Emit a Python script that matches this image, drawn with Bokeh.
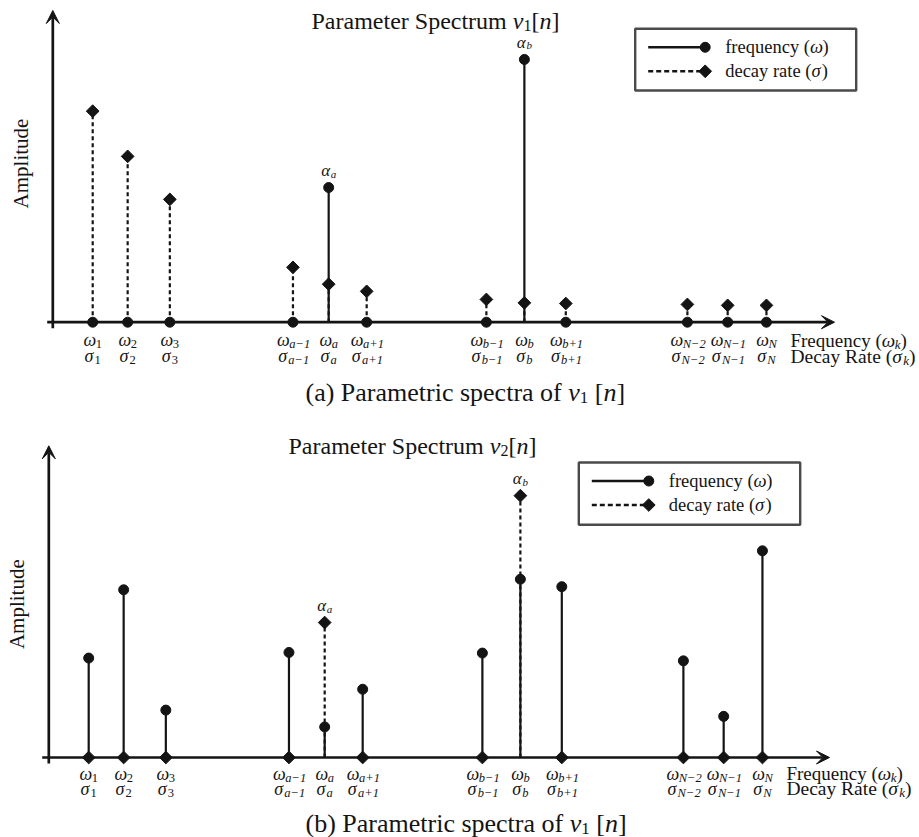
import math
from bokeh.plotting import figure
from bokeh.models import Range1d, Arrow, VeeHead
from bokeh.layouts import column
from bokeh.embed import file_html
from bokeh.resources import INLINE
from bokeh.core.properties import value

# ---------------- data ----------------
components = ["1", "2", "3", "a−1", "a", "a+1", "b−1", "b", "b+1", "N−2", "N−1", "N"]
positions = [1.05, 1.97, 3.08, 6.32, 7.26, 8.26, 11.41, 12.41, 13.50, 16.70, 17.76, 18.78]

# panel (a): spectrum of v1[n]
freq_v1 = [0, 0, 0, 0, 0.432, 0, 0, 0.843, 0, 0, 0, 0]
decay_v1 = [0.677, 0.532, 0.394, 0.176, 0.122, 0.099, 0.073, 0.062, 0.060, 0.057, 0.054, 0.054]

# panel (b): spectrum of v2[n]
freq_v2 = [0.319, 0.538, 0.152, 0.337, 0.098, 0.219, 0.335, 0.572, 0.548, 0.310, 0.132, 0.663]
decay_v2 = [0, 0, 0, 0, 0.433, 0, 0, 0.840, 0, 0, 0, 0]

peak_index = [4, 7]
peak_names = ["a", "b"]

# ---------------- style ----------------
FONT = "Liberation Serif"
INK = "#141414"
W = 919
PPX = 38.0     # pixels per frequency unit
PPY = 311.7    # pixels per amplitude unit

ROMAN = {' ': .25, '(': .333, ')': .333, '[': .333, ']': .333, 'a': .444, 'b': .5, 'c': .444,
         'd': .5, 'e': .444, 'f': .333, 'i': .278, 'k': .5, 'l': .278, 'm': .778, 'n': .5,
         'o': .5, 'p': .5, 'q': .5, 'r': .333, 's': .389, 't': .278, 'u': .5, 'v': .5, 'y': .5,
         'A': .722, 'D': .722, 'F': .556, 'N': .722, 'P': .556, 'R': .667, 'S': .556,
         '+': .564, '−': .564}
ITALIC = {'a': .5, 'b': .5, 'k': .444, 'n': .5, 'v': .444, 'N': .667, 'ω': .68, 'σ': .56, 'α': .56}


def twidth(s, size, italic):
    tab = ITALIC if italic else ROMAN
    return sum(tab.get(c, ROMAN.get(c, .5)) for c in s) * size


def rich(p, x, y, pieces, align="left", dx=0.0, dy=0.0):
    total = sum(twidth(t, s, it) for t, s, it, _ in pieces)
    cur = dx - (total / 2.0 if align == "center" else 0.0)
    for t, s, it, rise in pieces:
        lead = len(t) - len(t.lstrip(" "))
        if lead:
            cur += twidth(" " * lead, s, it)
            t = t.lstrip(" ")
        p.text(x=[x], y=[y], text=[t], x_offset=cur, y_offset=dy + rise,
               text_font=value(FONT), text_font_size=f"{s}px",
               text_font_style="italic" if it else "normal",
               text_color=INK, text_align="left", text_baseline="middle")
        cur += twidth(t, s, it)


def sub_italic(s):
    return any(c.isalpha() for c in s)


def panel(freq, decay, cfg):
    x0, base, H = cfg["axis_px"], cfg["base_px"], cfg["height"]
    p = figure(width=W, height=H,
               x_range=Range1d(-x0 / PPX, (W - x0) / PPX),
               y_range=Range1d(-(H - base) / PPY, base / PPY),
               x_axis_type=None, y_axis_type=None, toolbar_location=None,
               output_backend="svg", min_border=0, outline_line_color=None,
               background_fill_color="white", border_fill_color="white")

    X = lambda px: (px - x0) / PPX
    Y = lambda py: (base - py) / PPY

    # axes with arrow heads
    p.add_layout(Arrow(end=VeeHead(size=13, fill_color=INK, line_color=INK, line_width=1),
                       x_start=0, y_start=Y(base + 6), x_end=0, y_end=1.0,
                       line_color=INK, line_width=2.7))
    p.add_layout(Arrow(end=VeeHead(size=13, fill_color=INK, line_color=INK, line_width=1),
                       x_start=X(cfg["xstart_px"]), y_start=0, x_end=X(cfg["xtip_px"]), y_end=0,
                       line_color=INK, line_width=2.7))

    # stems
    dx_ = [x for x, d in zip(positions, decay) if d > 0]
    dy_ = [d for d in decay if d > 0]
    p.segment(x0=dx_, y0=[0] * len(dx_), x1=dx_, y1=dy_, line_color=INK,
              line_width=2.2, line_dash="4 3")
    fx_ = [x for x, f in zip(positions, freq) if f > 0]
    fy_ = [f for f in freq if f > 0]
    p.segment(x0=fx_, y0=[0] * len(fx_), x1=fx_, y1=fy_, line_color=INK, line_width=2.2)

    # markers
    p.scatter(positions, decay, marker="square", angle=math.pi / 4, size=9,
              fill_color=INK, line_color=INK)
    p.scatter(positions, freq, marker="circle", size=10, fill_color=INK, line_color=INK)

    # alpha labels above the dominant components
    for i, nm in zip(peak_index, peak_names):
        top = max(freq[i], decay[i])
        rich(p, positions[i], top, [("α", 17, True, 0), (nm, 11, True, 3)],
             align="center", dy=-17)

    # tick labels (two rows)
    for xi, lab in zip(positions, components):
        it = sub_italic(lab)
        rich(p, xi, 0, [("ω", 18, True, 0), (lab, 12.5, it, 4)], align="center", dy=cfg["row1"])
        rich(p, xi, 0, [("σ", 18, True, 0), (lab, 12.5, it, 4)], align="center", dy=cfg["row2"])

    rich(p, positions[-1], 0, [("Frequency (", 19, False, 0), ("ω", 19, True, 0),
                               ("k", 13, True, 4), (")", 19, False, 0)],
         dx=cfg["axlab_dx"], dy=cfg["row1"])
    rich(p, positions[-1], 0, [("Decay Rate (", 19.5, False, 0), ("σ", 19.5, True, 0),
                               ("k", 13, True, 4), (")", 19.5, False, 0)],
         dx=cfg["axlab_dx"], dy=cfg["row2"])

    # y label
    ax, ay = cfg["amp_px"]
    p.text(x=[X(ax)], y=[Y(ay)], text=["Amplitude"], angle=math.pi / 2,
           text_font=value(FONT), text_font_size="21px", text_color=INK,
           text_align="center", text_baseline="middle")

    # title
    tx, ty = cfg["title_px"]
    rich(p, X(tx), Y(ty), [("Parameter Spectrum ", 24, False, 0), ("v", 24, True, 0),
                           (cfg["sig"], 16, False, 5), ("[", 24, False, 0),
                           ("n", 24, True, 0), ("]", 24, False, 0)])

    # legend
    l, t, r, b = cfg["legend_px"]
    p.quad(left=[X(l)], right=[X(r)], top=[Y(t)], bottom=[Y(b)], fill_color="white",
           line_color="#4a4a4a", line_width=2.4)
    r1, r2 = t + 18.5, t + 42.5
    p.line([X(l + 13), X(l + 70)], [Y(r1)] * 2, line_color=INK, line_width=2.4)
    p.scatter([X(l + 70)], [Y(r1)], marker="circle", size=10, fill_color=INK, line_color=INK)
    p.line([X(l + 13), X(l + 70)], [Y(r2)] * 2, line_color=INK, line_width=2.4, line_dash="5 3")
    p.scatter([X(l + 70)], [Y(r2)], marker="square", angle=math.pi / 4, size=9,
              fill_color=INK, line_color=INK)
    rich(p, X(l + 90), Y(r1), [("frequency (", 18.5, False, 0), ("ω", 18.5, True, 0), (")", 18.5, False, 0)])
    rich(p, X(l + 90), Y(r2), [("decay rate (", 18.5, False, 0), ("σ", 18.5, True, 0), (")", 18.5, False, 0)])

    # caption
    cx, cy = cfg["caption_px"]
    rich(p, X(cx), Y(cy), [(cfg["tag"] + " Parametric spectra of ", 26, False, 0),
                           ("v", 26, True, 0), ("1", 17, False, 5), (" [", 26, False, 0),
                           ("n", 26, True, 0), ("]", 26, False, 0)])
    return p


cfg_a = dict(height=417, axis_px=52.3, base_px=321.7, xstart_px=46.7, xtip_px=834,
             row1=18, row2=34, axlab_dx=24, amp_px=(20.7, 163), title_px=(311, 20),
             sig="1", legend_px=(634.7, 28.3, 855.7, 90), caption_px=(305, 392), tag="(a)")
cfg_b = dict(height=420, axis_px=48.3, base_px=340, xstart_px=41.7, xtip_px=829,
             row1=16, row2=31, axlab_dx=24, amp_px=(16.7, 186.7), title_px=(288, 28.3),
             sig="2", legend_px=(578.3, 45, 799.7, 107.3), caption_px=(305, 406), tag="(b)")

pa = panel(freq_v1, decay_v1, cfg_a)
pb = panel(freq_v2, decay_v2, cfg_b)

layout = column(pa, pb, spacing=0)
open("out.html", "w").write(file_html(layout, INLINE))
